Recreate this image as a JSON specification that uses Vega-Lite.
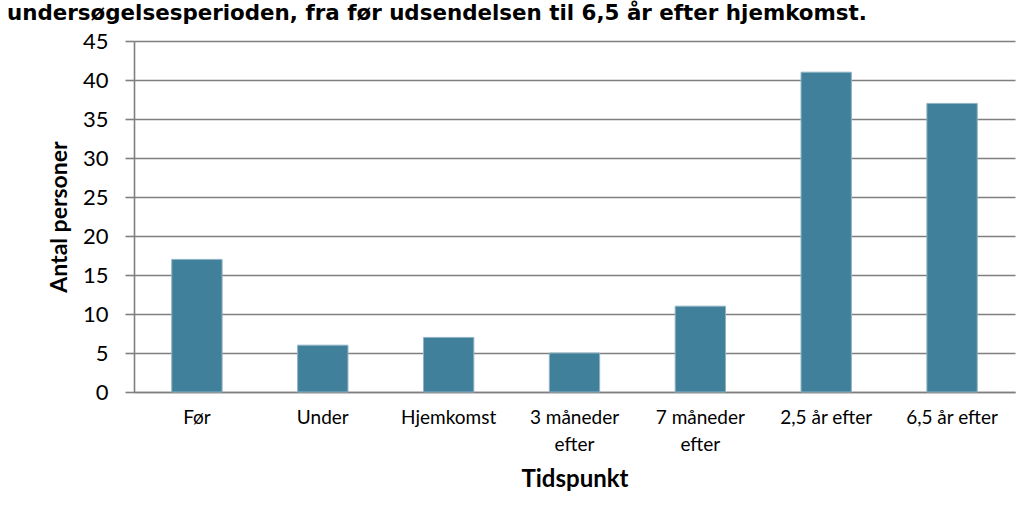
{
  "$schema": "https://vega.github.io/schema/vega-lite/v6.json",
  "width": 881,
  "height": 351,
  "autosize": "none",
  "padding": {"left": 134, "top": 41, "right": 17, "bottom": 133},
  "background": "white",
  "title": {
    "text": "undersøgelsesperioden, fra før udsendelsen til 6,5 år efter hjemkomst.",
    "anchor": "start",
    "frame": "group",
    "dx": -127,
    "offset": 6,
    "baseline": "top",
    "font": "DejaVu Sans",
    "fontSize": 21.4,
    "fontWeight": "bold",
    "color": "#000000"
  },
  "data": {
    "values": [
      {"tidspunkt": "Før", "antal": 17},
      {"tidspunkt": "Under", "antal": 6},
      {"tidspunkt": "Hjemkomst", "antal": 7},
      {"tidspunkt": "3 måneder efter", "antal": 5},
      {"tidspunkt": "7 måneder efter", "antal": 11},
      {"tidspunkt": "2,5 år efter", "antal": 41},
      {"tidspunkt": "6,5 år efter", "antal": 37}
    ]
  },
  "mark": {"type": "bar", "color": "#41809A", "stroke": "#8DB3C4", "strokeWidth": 1},
  "encoding": {
    "x": {
      "field": "tidspunkt",
      "type": "nominal",
      "sort": null,
      "title": "Tidspunkt",
      "scale": {"paddingInner": 0.6, "paddingOuter": 0.3},
      "axis": {
        "labelAngle": 0,
        "labelExpr": "indexof(datum.label, 'måneder') >= 0 ? [replace(datum.label, ' efter', ''), 'efter'] : datum.label",
        "labelFont": "Lato",
        "labelFontSize": 19,
        "labelColor": "#000000",
        "labelLineHeight": 27,
        "labelPadding": 16,
        "ticks": false,
        "domainColor": "#7f7f7f",
        "domainWidth": 1.6,
        "titleFont": "Lato",
        "titleFontSize": 24,
        "titleFontWeight": "bold",
        "titleColor": "#000000",
        "titlePadding": 13
      }
    },
    "y": {
      "field": "antal",
      "type": "quantitative",
      "title": "Antal personer",
      "scale": {"domain": [0, 45], "nice": false},
      "axis": {
        "values": [0, 5, 10, 15, 20, 25, 30, 35, 40, 45],
        "labelFont": "Lato",
        "labelFontSize": 22,
        "labelColor": "#000000",
        "labelPadding": 17,
        "tickSize": 9,
        "tickColor": "#7f7f7f",
        "tickWidth": 1.6,
        "domainColor": "#7f7f7f",
        "domainWidth": 1.6,
        "grid": true,
        "gridColor": "#7f7f7f",
        "gridWidth": 1.6,
        "titleFont": "Lato",
        "titleFontSize": 23,
        "titleFontWeight": "bold",
        "titleColor": "#000000",
        "titlePadding": 11
      }
    }
  },
  "config": {"view": {"stroke": null}}
}
